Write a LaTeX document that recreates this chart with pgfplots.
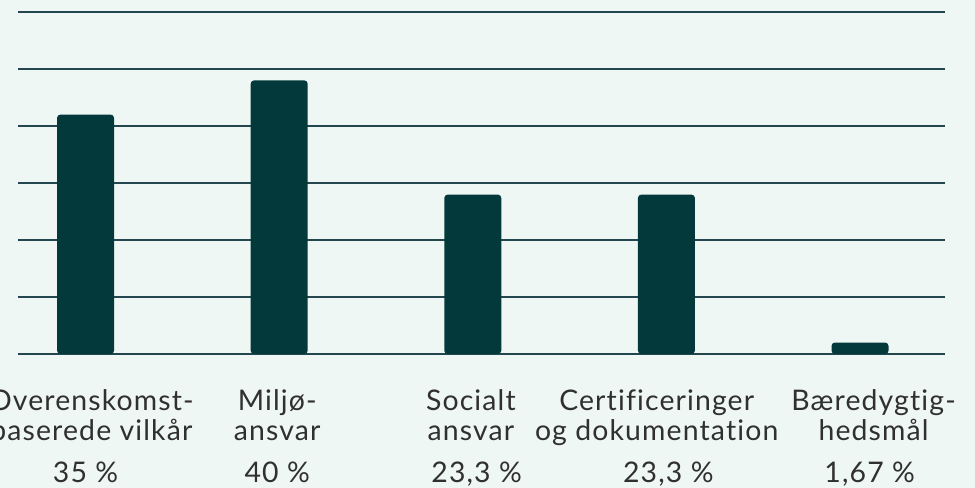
\documentclass[border=0pt]{standalone}
\usepackage{pgfplots}
\pgfplotsset{compat=1.18}
\usepackage{fontspec}
\setmainfont{Lato}[LetterSpace=4, Ligatures={NoCommon}]
\definecolor{bg}{HTML}{EFF7F5}
\definecolor{barc}{HTML}{03393A}
\definecolor{gridc}{HTML}{24474F}
\definecolor{txt}{HTML}{303030}
\begin{document}
\begin{tikzpicture}
\useasboundingbox (0,0) rectangle (731.25pt,366pt);
\clip (0,0) rectangle (731.25pt,366pt);
\fill[bg] (0,0) rectangle (731.25pt,366pt);
\begin{axis}[
  at={(13.5pt,100.5pt)}, anchor=south west,
  scale only axis, width=695.25pt, height=256.5pt,
  xmin=-0.349, xmax=4.439, ymin=0, ymax=50,
  ytick={0,8.3333,16.6667,25,33.3333,41.6667,50},
  xtick=\empty, yticklabels={},
  ymajorgrids, grid style={gridc, line width=0.8pt},
  axis line style={draw=none}, major tick length=0pt,
  clip=false,
  ybar, bar width=42.75pt,
]
\addplot[fill=barc, draw=none, rounded corners=2.5pt] coordinates {(0,35) (1,40) (2,23.3) (3,23.3) (4,1.67)};
\begin{scope}[every node/.style={anchor=base, text=txt, font=\fontsize{21.3}{24}\selectfont, inner sep=0pt}]
\node at (axis cs:0.03,-8.19) {Overenskomst-};
\node at (axis cs:0.03,-12.72) {baserede vilkår};
\node at (axis cs:0.99,-8.19) {Miljø-};
\node at (axis cs:0.99,-12.72) {ansvar};
\node at (axis cs:1.99,-8.19) {Socialt};
\node at (axis cs:1.99,-12.72) {ansvar};
\node at (axis cs:2.95,-8.19) {Certificeringer};
\node at (axis cs:2.95,-12.72) {og dokumentation};
\node at (axis cs:4.07,-8.19) {Bæredygtig-};
\node at (axis cs:4.07,-12.72) {hedsmål};
\node at (axis cs:0,-18.86) {35 \%};
\node at (axis cs:0.99,-18.86) {40 \%};
\node at (axis cs:2.02,-18.86) {23,3 \%};
\node at (axis cs:3.01,-18.86) {23,3 \%};
\node at (axis cs:4.05,-18.86) {1,67 \%};
\end{scope}
\end{axis}
\end{tikzpicture}
\end{document}
